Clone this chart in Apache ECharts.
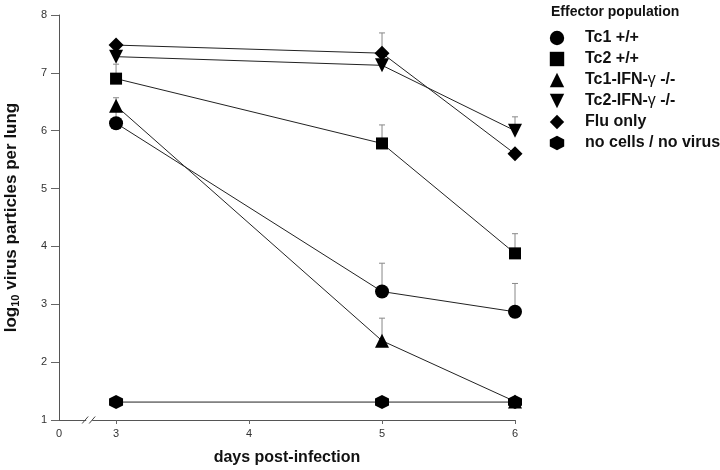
<!DOCTYPE html>
<html><head><meta charset="utf-8">
<script src="https://cdn.jsdelivr.net/npm/echarts@6/dist/echarts.min.js"></script>
<style>html,body{margin:0;padding:0;background:#fff}#c{width:720px;height:470px}</style>
</head><body><div id="c"></div>
<script>
// ---- data ----
const days = [3, 5, 6];
const seriesNames = ['Tc1 +/+', 'Tc2 +/+', 'Tc1-IFN-γ -/-', 'Tc2-IFN-γ -/-', 'Flu only', 'no cells / no virus'];
const tc1 = [6.13, 3.22, 2.87];
const tc2 = [6.90, 5.78, 3.88];
const tc1Ifn = [6.43, 2.37, 1.32];
const tc2Ifn = [7.28, 7.13, 6.00];
const fluOnly = [7.48, 7.34, 5.60];
const noCells = [1.31, 1.31, 1.31];
// upper ends of error bars (null = not visible)
const tc1Err = [6.35, 3.71, 3.36];
const tc2Err = [7.15, 6.10, 4.22];
const tc1IfnErr = [6.57, 2.76, null];
const tc2IfnErr = [null, null, 6.24];
const fluErr = [null, 7.69, null];
const noCellsErr = [null, null, null];
const yTicks = [1, 2, 3, 4, 5, 6, 7, 8];
const xTickDays = [3, 4, 5, 6];
const xOriginLabel = '0';

// ---- build ----
const xMin = 2.571;
const valuesList = [tc1, tc2, tc1Ifn, tc2Ifn, fluOnly, noCells];
const errList = [tc1Err, tc2Err, tc1IfnErr, tc2IfnErr, fluErr, noCellsErr];
const hexPath = 'path://M0,-1 L0.866,-0.5 L0.866,0.5 L0,1 L-0.866,0.5 L-0.866,-0.5 Z';
const downTri = 'path://M0,0 L2,0 L1,1.8 Z';
const symbols = ['circle', 'rect', 'triangle', downTri, 'diamond', hexPath];
const sizes = [14, 12, 14, 14, 15, 14];

const chart = echarts.init(document.getElementById('c'), null, {renderer: 'canvas'});

const errData = [];
errList.forEach((arr, si) => arr.forEach((top, i) => {
  if (top != null) errData.push([days[i], valuesList[si][i], top]);
}));

const series = [{
  type: 'custom',
  name: 'err',
  z: 1,
  silent: true,
  data: errData,
  renderItem(params, api) {
    const p0 = api.coord([api.value(0), api.value(1)]);
    const p1 = api.coord([api.value(0), api.value(2)]);
    return {type: 'group', children: [
      {type: 'line', shape: {x1: p0[0], y1: p0[1], x2: p1[0], y2: p1[1]}, style: {stroke: '#888', lineWidth: 1}},
      {type: 'line', shape: {x1: p1[0] - 3, y1: p1[1], x2: p1[0] + 3, y2: p1[1]}, style: {stroke: '#888', lineWidth: 1}}
    ]};
  }
}];
seriesNames.forEach((n, si) => {
  series.push({
    type: 'line',
    name: n,
    z: 3 + si,
    data: days.map((d, i) => [d, valuesList[si][i]]),
    symbol: symbols[si],
    symbolSize: sizes[si],
    showAllSymbol: true,
    color: '#000',
    itemStyle: {color: '#000'},
    lineStyle: {color: '#222', width: 1},
    emphasis: {disabled: true},
    animation: false
  });
});

const FONT = '"Liberation Sans", Arial, Helvetica, sans-serif';

chart.setOption({
  animation: false,
  backgroundColor: '#fff',
  textStyle: {fontFamily: FONT},
  title: {
    text: 'Effector population',
    left: 546, top: 0,
    textStyle: {fontFamily: FONT, fontSize: 14, fontWeight: 'bold', color: '#111'}
  },
  legend: {
    data: seriesNames,
    orient: 'vertical',
    left: 528, top: 24,
    itemWidth: 46, itemHeight: 18, itemGap: 3,
    lineStyle: {opacity: 0},
    textStyle: {
      fontFamily: FONT, fontSize: 16, fontWeight: 'bold', color: '#111', lineHeight: 18,
      rich: {g: {fontFamily: FONT, fontSize: 16, fontWeight: 'normal', color: '#111'},
             t: {fontFamily: FONT, fontSize: 16, fontWeight: 'bold', color: '#111'}}
    },
    formatter: (name) => {
      const parts = name.split('γ');
      if (parts.length === 1) return name;
      return '{t|' + parts[0] + '}{g|γ}{t|' + parts[1] + '}';
    }
  },
  grid: {left: 59, right: 205, top: 15, bottom: 50, containLabel: false, outerBoundsMode: 'none'},
  xAxis: {
    type: 'value',
    min: xMin, max: 6,
    name: 'days post-infection',
    nameLocation: 'middle',
    nameGap: 30,
    nameTextStyle: {fontFamily: FONT, fontSize: 16, fontWeight: 'bold', color: '#111'},
    axisLine: {show: true, onZero: false, lineStyle: {color: '#555', width: 1}},
    axisTick: {show: true, length: 4, lineStyle: {color: '#666'}, customValues: xTickDays},
    axisLabel: {
      customValues: [xMin].concat(xTickDays),
      formatter: (v) => (v < 3 ? xOriginLabel : String(v)),
      fontFamily: FONT, fontSize: 11, color: '#333', margin: 8
    },
    splitLine: {show: false}
  },
  yAxis: {
    type: 'value',
    min: 1, max: 8, interval: 1,
    name: '{a|log}{b|10}{a| virus particles per lung}',
    nameLocation: 'middle',
    nameGap: 38,
    nameRotate: 90,
    nameTextStyle: {
      rich: {
        a: {fontFamily: FONT, fontSize: 17, fontWeight: 'bold', color: '#111'},
        b: {fontFamily: FONT, fontSize: 11, fontWeight: 'bold', color: '#111', padding: [8, 0, 0, 0]}
      }
    },
    axisLine: {show: true, lineStyle: {color: '#555', width: 1}},
    axisTick: {show: true, length: 8, lineStyle: {color: '#666'}},
    axisLabel: {fontFamily: FONT, fontSize: 11, color: '#333', margin: 12,
      formatter: (v) => (yTicks.indexOf(v) >= 0 ? String(v) : '')},
    splitLine: {show: false}
  },
  series: series
});

// axis break marks between the origin and day 3
const bx = chart.convertToPixel({xAxisIndex: 0}, (xMin + 3) / 2 + 0.02);
const by = chart.convertToPixel({yAxisIndex: 0}, 1);
chart.setOption({
  graphic: [
    {type: 'rect', shape: {x: bx - 4, y: by - 2, width: 6, height: 4}, style: {fill: '#fff'}, z: 10},
    {type: 'line', shape: {x1: bx - 8, y1: by + 3.5, x2: bx - 2, y2: by - 3.5}, style: {stroke: '#444', lineWidth: 1}, z: 11},
    {type: 'line', shape: {x1: bx - 1, y1: by + 3.5, x2: bx + 5, y2: by - 3.5}, style: {stroke: '#444', lineWidth: 1}, z: 11}
  ]
});
</script>
</body></html>
